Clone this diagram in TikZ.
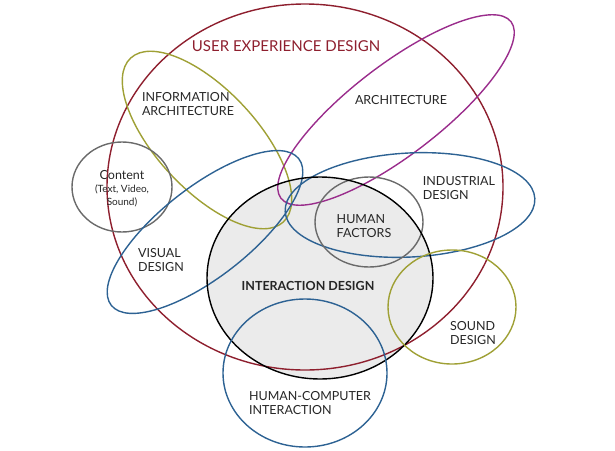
\documentclass[tikz,border=0pt]{standalone}
\usepackage{fontspec}
\setmainfont{Lato}
\usepackage{xcolor}
\usetikzlibrary{positioning}

\definecolor{uxred}{HTML}{8E1F2E}
\definecolor{olivel}{HTML}{9FA035}
\definecolor{purplel}{HTML}{9A2D8C}
\definecolor{bluel}{HTML}{2D6293}
\definecolor{grayl}{HTML}{6A6A6A}
\definecolor{idfill}{HTML}{EBEBEB}

\newcommand{\subtxt}{\fontsize{10}{11}\selectfont}

\begin{document}
\begin{tikzpicture}[x=1pt, y=-1pt,
    field/.style={line width=1.4pt},
    label/.style={font=\fontsize{12.5}{14}\selectfont, text=black!85, align=left, inner sep=0pt},
    title/.style={font=\fontsize{15}{17}\selectfont, text=uxred, inner sep=0pt}
]
    \useasboundingbox (0,0) rectangle (615,450);

    % Interaction design (filled, at the back)
    \fill[idfill] (320,278) ellipse [x radius=113, y radius=101];

    % Fields
    \draw[field, uxred] (305,187) ellipse [x radius=198, y radius=183];
    \draw[field, olivel, rotate around={-47:(207,140)}] (207,140) ellipse [x radius=112, y radius=50];
    \draw[field, purplel, rotate around={37.5:(396,110)}] (396,110) ellipse [x radius=145, y radius=45];
    \draw[field, grayl] (122,187) ellipse [x radius=50, y radius=45];
    \draw[field, bluel, rotate around={38:(205,232)}] (205,232) ellipse [x radius=119, y radius=45];
    \draw[field, bluel, rotate around={3:(410,205)}] (410,205) ellipse [x radius=125, y radius=52];
    \draw[field, grayl] (369,222) ellipse [x radius=54, y radius=45];
    \draw[field, black] (320,278) ellipse [x radius=113, y radius=101];
    \draw[field, olivel] (452,307) ellipse [x radius=64, y radius=57];
    \draw[field, bluel] (305,373) ellipse [x radius=82, y radius=74];

    % Labels
    \node[title] (ux) at (286,46) {USER EXPERIENCE DESIGN};
    \node[label] (infoarch) at (188,104) {INFORMATION\\ARCHITECTURE};
    \node[label] (arch) at (401,100) {ARCHITECTURE};
    \node[label, align=center] (content) at (122,189) {Content\\[-1pt]{\subtxt (Text, Video,}\\[-1pt]{\subtxt Sound)}};
    \node[label] (industrial) at (459,188) {INDUSTRIAL\\DESIGN};
    \node[label] (factors) at (364,226) {HUMAN\\FACTORS};
    \node[label] (visual) at (161,260) {VISUAL\\DESIGN};
    \node[label, font=\fontsize{12.5}{14}\selectfont\bfseries] (interaction) at (308,286) {INTERACTION DESIGN};
    \node[label] (sound) at (473,333) {SOUND\\DESIGN};
    \node[label] (hci) at (310,403) {HUMAN-COMPUTER\\INTERACTION};
\end{tikzpicture}
\end{document}
